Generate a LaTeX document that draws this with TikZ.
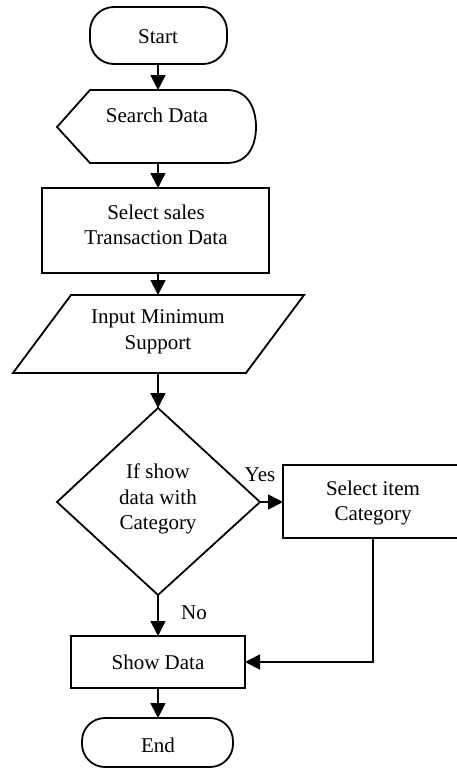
\documentclass[tikz,border=0pt]{standalone}
\usepackage{fontspec}
\setmainfont{Liberation Serif}
\usetikzlibrary{arrows.meta}
\begin{document}
\begin{tikzpicture}[x=1pt,y=-1pt,
  shapeline/.style={draw=black, line width=1.8pt, line join=miter},
  flowarrow/.style={draw=black, line width=1.8pt, -{Triangle[length=15pt,width=15pt]}},
  txt/.style={font=\fontsize{21}{25.5}\selectfont, align=center, inner sep=0pt}]
\useasboundingbox[fill=white] (0,0) rectangle (456,769);

% Start terminator
\draw[shapeline, rounded corners=24pt] (90,7) rectangle (227,64);
\node[txt] (start) at (158,37) {Start};
\coordinate (startS) at (158,64);

% Search Data (display shape)
\draw[shapeline] (90,90) -- (227,90)
  .. controls (249,90) and (256,110) .. (256,127)
  .. controls (256,144) and (249,163) .. (227,163)
  -- (90,163) -- (57,127) -- cycle;
\node[txt] (search) at (157,115) {Search Data};
\coordinate (searchN) at (158,90);
\coordinate (searchS) at (158,163);

% Select sales Transaction Data
\draw[shapeline] (42,188) rectangle (269,273);
\node[txt] (sales) at (156,225) {Select sales\\Transaction Data};
\coordinate (salesN) at (158,188);
\coordinate (salesS) at (158,273);

% Input Minimum Support (data)
\draw[shapeline] (13,373) -- (71,295) -- (304,295) -- (246,373) -- cycle;
\node[txt] (input) at (158,332) {Input Minimum\\Support};
\coordinate (inputN) at (158,295);
\coordinate (inputS) at (158,373);

% Decision
\draw[shapeline] (158,408) -- (260,502) -- (158,595) -- (57,502) -- cycle;
\node[txt] (decide) at (158,499) {If show\\data with\\Category};
\coordinate (decideN) at (158,408);
\coordinate (decideE) at (260,502);
\coordinate (decideS) at (158,595);

% Select item Category
\draw[shapeline] (283,465) rectangle (463,538);
\node[txt] (item) at (373,503) {Select item\\Category};
\coordinate (itemW) at (283,502);
\coordinate (itemS) at (373,538);
\coordinate (itemTurn) at (373,662);

% Show Data
\draw[shapeline] (71,636) rectangle (245,688);
\node[txt] (show) at (158,662) {Show Data};
\coordinate (showN) at (158,636);
\coordinate (showE) at (245,662);
\coordinate (showS) at (158,688);

% End terminator
\draw[shapeline, rounded corners=23pt] (82,718) rectangle (233,767);
\node[txt] (finish) at (158,745) {End};
\coordinate (finishN) at (158,718);

% Connectors
\draw[flowarrow] (startS) -- (searchN);
\draw[flowarrow] (searchS) -- (salesN);
\draw[flowarrow] (salesS) -- (inputN);
\draw[flowarrow] (inputS) -- (decideN);
\draw[flowarrow] (decideE) -- (itemW);
\draw[flowarrow] (decideS) -- (showN);
\draw[flowarrow] (itemS) -- (itemTurn) -- (showE);
\draw[flowarrow] (showS) -- (finishN);

% Branch labels
\node[txt] (yes) at (260,475) {Yes};
\node[txt] (no) at (194,613) {No};
\end{tikzpicture}
\end{document}
